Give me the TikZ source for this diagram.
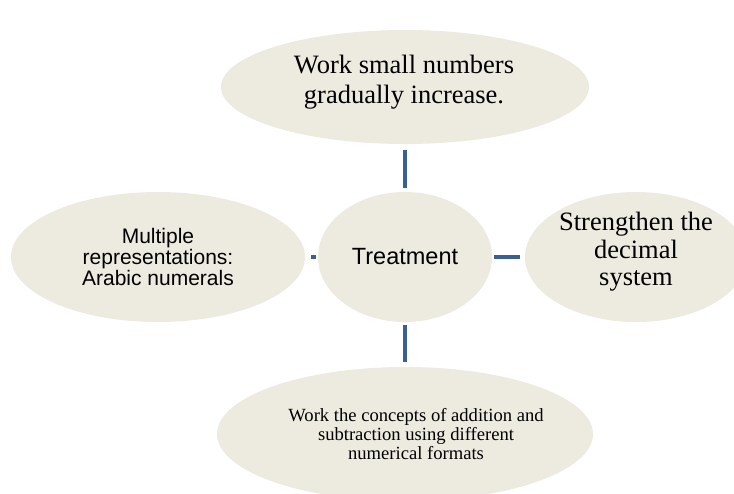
\documentclass[tikz,border=0pt]{standalone}
\usepackage{fontspec}
\setmainfont{Liberation Serif}
\newfontfamily\arialfont{Liberation Sans}
\usepackage{tikz}
\usetikzlibrary{shapes.geometric,positioning}
\definecolor{bubblefill}{HTML}{EDEAE0}
\definecolor{linkblue}{HTML}{3A5F94}

\begin{document}
\begin{tikzpicture}[x=1pt,y=-1pt,
  bubble/.style={ellipse,fill=bubblefill,inner sep=0pt,align=center},
  words/.style={inner sep=0pt,align=center},
  link/.style={draw=linkblue,line width=4.5pt}]
\clip (0,0) rectangle (734,493);
\useasboundingbox (0,0) rectangle (734,493);
% centre and the four ideas round it
\node[bubble,minimum width=174pt,minimum height=130pt,font=\arialfont\fontsize{23.5}{26}\selectfont] (treat) at (405,257) {Treatment};
\node[bubble,minimum width=294pt,minimum height=130pt,font=\arialfont\fontsize{21}{21}\selectfont] (multi) at (158,257) {Multiple\\representations:\\Arabic numerals};
\node[bubble,minimum width=368pt,minimum height=114pt] (small) at (405,87) {};
\node[bubble,minimum width=222pt,minimum height=130pt] (decimal) at (636,257) {};
\node[bubble,minimum width=376pt,minimum height=134pt] (concepts) at (405,434) {};
\node[words,font=\fontsize{26.5}{30}\selectfont] (smalltext) at ([xshift=-1pt,yshift=5pt]small.center) {Work small numbers\\gradually increase.};
\node[words,font=\fontsize{26.5}{27.5}\selectfont] (decimaltext) at ([yshift=5pt]decimal.center) {Strengthen the\\decimal\\system};
\node[words,font=\fontsize{18.6}{18.8}\selectfont] (conceptstext) at ([xshift=11pt]concepts.center) {Work the concepts of addition and\\subtraction using different\\numerical formats};
% links
\draw[link,shorten <=4pt,shorten >=6pt] (treat) -- (small);
\draw[link,shorten <=2pt,shorten >=6pt] (treat) -- (multi);
\draw[link,shorten <=2pt,shorten >=5pt] (treat) -- (decimal);
\draw[link,shorten <=3pt,shorten >=5pt] (treat) -- (concepts);
\end{tikzpicture}
\end{document}
